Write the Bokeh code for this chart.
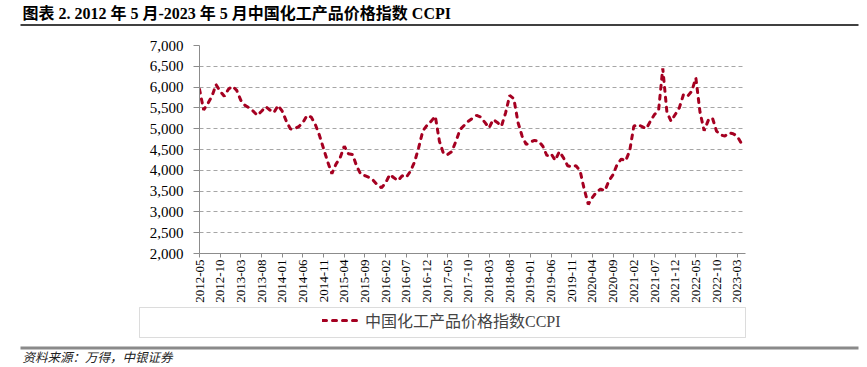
import math
from bokeh.plotting import figure
from bokeh.layouts import column
from bokeh.models import (FixedTicker, NumeralTickFormatter, Range1d, Label,
                          Legend, LegendItem, BoxAnnotation)
from bokeh.embed import file_html
from bokeh.resources import INLINE

# ---- data (monthly, starting 2012-05) ----
start_year, start_month = 2012, 5
ccpi = [
    5950, 5450, 5600, 5780, 6060, 5900, 5780, 5950, 6020, 5920,
    5680, 5560, 5500, 5420, 5320, 5420, 5530, 5450, 5390, 5560,
    5420, 5180, 4990, 5000, 5050, 5150, 5320, 5280, 5100, 4840,
    4520, 4200, 3920, 4150, 4300, 4580, 4400, 4380, 4100, 3900,
    3870, 3830, 3760, 3650, 3580, 3700, 3900, 3820, 3750, 3870,
    3830, 3980, 4200, 4550, 4950, 5080, 5180, 5300, 4700, 4400,
    4380, 4450, 4700, 4980, 5080, 5180, 5250, 5320, 5280, 5150,
    5020, 5220, 5150, 5060, 5380, 5800, 5720, 5150, 4820, 4620,
    4680, 4720, 4700, 4580, 4350, 4400, 4240, 4450, 4300, 4110,
    4080, 4110, 3990, 3550, 3180, 3350, 3480, 3550, 3510, 3750,
    3900, 4150, 4270, 4225, 4465, 5060, 5100, 5050, 5000, 5180,
    5340, 5450, 6450, 5400, 5180, 5340, 5500, 5820, 5780, 5900,
    6220, 5400, 4950, 5200, 5260, 4940, 4850, 4820, 4900, 4880,
    4820, 4650,
]
tick_labels = [
    "2012-05", "2012-10", "2013-03", "2013-08", "2014-01", "2014-06",
    "2014-11", "2015-04", "2015-09", "2016-02", "2016-07", "2016-12",
    "2017-05", "2017-10", "2018-03", "2018-08", "2019-01", "2019-06",
    "2019-11", "2020-04", "2020-09", "2021-02", "2021-07", "2021-12",
    "2022-05", "2022-10", "2023-03",
]
y_ticks = [2000, 2500, 3000, 3500, 4000, 4500, 5000, 5500, 6000, 6500, 7000]
series_name = "中国化工产品价格指数CCPI"
title_text = "图表 2. 2012 年 5 月-2023 年 5 月中国化工产品价格指数 CCPI"
source_text = "资料来源：万得，中银证券"

months = []
for i in range(len(ccpi)):
    yy = start_year + (start_month - 1 + i) // 12
    mm = (start_month - 1 + i) % 12 + 1
    months.append(f"{yy}-{mm:02d}")
idx = list(range(len(ccpi)))
tick_pos = [months.index(t) for t in tick_labels]

SERIF = "Liberation Serif, Noto Sans CJK SC"
RED = "#A50021"
AXIS = "#8c8c8c"
LINE_KW = dict(line_color=RED, line_width=3, line_dash="4 6", line_cap="round")

W = 867
H_TOP, H_MAIN, H_BOT = 35, 270, 62


def blank(h):
    f = figure(width=W, height=h, output_backend="svg", toolbar_location=None,
               x_range=Range1d(0, W), y_range=Range1d(h, 0),
               x_axis_type=None, y_axis_type=None,
               min_border=0, min_border_left=0, min_border_right=0,
               min_border_top=0, min_border_bottom=0, frame_align=False)
    f.outline_line_color = None
    f.grid.visible = False
    f.background_fill_color = "white"
    f.border_fill_color = "white"
    return f


def box(left, right, top, bottom, **kw):
    return BoxAnnotation(left=left, right=right, top=top, bottom=bottom, **kw)


# ---- top: title + rule ----
top = blank(H_TOP)
top.add_layout(Label(x=22, y=13, text=title_text, text_font=SERIF,
                     text_font_style="bold", text_font_size="16px",
                     text_baseline="middle", text_color="black"))
top.add_layout(box(20, 858, 23.5, 25.5, fill_color="#404040", fill_alpha=1,
                   line_alpha=0))

# ---- main chart ----
p = figure(width=W, height=H_MAIN, output_backend="svg", toolbar_location=None,
           x_range=Range1d(0, 132), y_range=Range1d(2000, 7000),
           min_border_left=199, min_border_right=122,
           min_border_top=10, min_border_bottom=50, frame_align=False)
p.outline_line_color = None
p.background_fill_color = "white"
p.border_fill_color = "white"

r = p.line(idx, ccpi, **LINE_KW)

p.xaxis.ticker = FixedTicker(ticks=tick_pos)
p.xaxis.major_label_overrides = {pos: lab for pos, lab in zip(tick_pos, tick_labels)}
p.xaxis.major_label_orientation = math.pi / 2
p.xaxis.minor_tick_line_color = None
p.xaxis.major_tick_in = 0
p.xaxis.major_tick_out = 4
p.xaxis.axis_line_color = AXIS
p.xaxis.major_tick_line_color = AXIS
p.xaxis.major_label_text_font = "Liberation Serif"
p.xaxis.major_label_text_font_size = "13px"
p.xaxis.major_label_text_color = "black"
p.xaxis.major_label_standoff = 2

p.yaxis.ticker = FixedTicker(ticks=y_ticks)
p.yaxis.formatter = NumeralTickFormatter(format="0,0")
p.yaxis.minor_tick_line_color = None
p.yaxis.major_tick_in = 0
p.yaxis.major_tick_out = 6
p.yaxis.axis_line_color = AXIS
p.yaxis.major_tick_line_color = AXIS
p.yaxis.major_label_text_font = "Liberation Serif"
p.yaxis.major_label_text_font_size = "15px"
p.yaxis.major_label_text_color = "black"
p.yaxis.major_label_standoff = 10

p.xgrid.visible = False
p.ygrid.grid_line_color = "#a6a6a6"
p.ygrid.grid_line_dash = "4 3"
p.ygrid.grid_line_width = 1

# ---- bottom: legend box, rule, source ----
bot = blank(H_BOT)
# legend proxy: same style as the series, no visible points
proxy = bot.line([0, 1], [float("nan"), float("nan")], **LINE_KW)
legend = Legend(items=[LegendItem(label=series_name, renderers=[proxy])],
                location=(322, 35), orientation="horizontal",
                border_line_color=None, background_fill_alpha=0,
                padding=0, margin=0, glyph_width=38, glyph_height=20,
                label_text_font=SERIF, label_text_font_size="16px",
                label_standoff=5)
bot.add_layout(legend, "center")
bot.add_layout(box(139, 745, 2, 32, fill_alpha=0, line_color=AXIS, line_width=1))
bot.add_layout(box(20, 858, 41, 44, fill_color="#8a8a8a", fill_alpha=1, line_alpha=0))
bot.add_layout(Label(x=22, y=52, text=source_text, text_font=SERIF,
                     text_font_style="italic", text_font_size="12.5px",
                     text_baseline="middle", text_color="#222222"))

layout = column(top, p, bot, spacing=0)
open("out.html", "w").write(file_html(layout, INLINE))
